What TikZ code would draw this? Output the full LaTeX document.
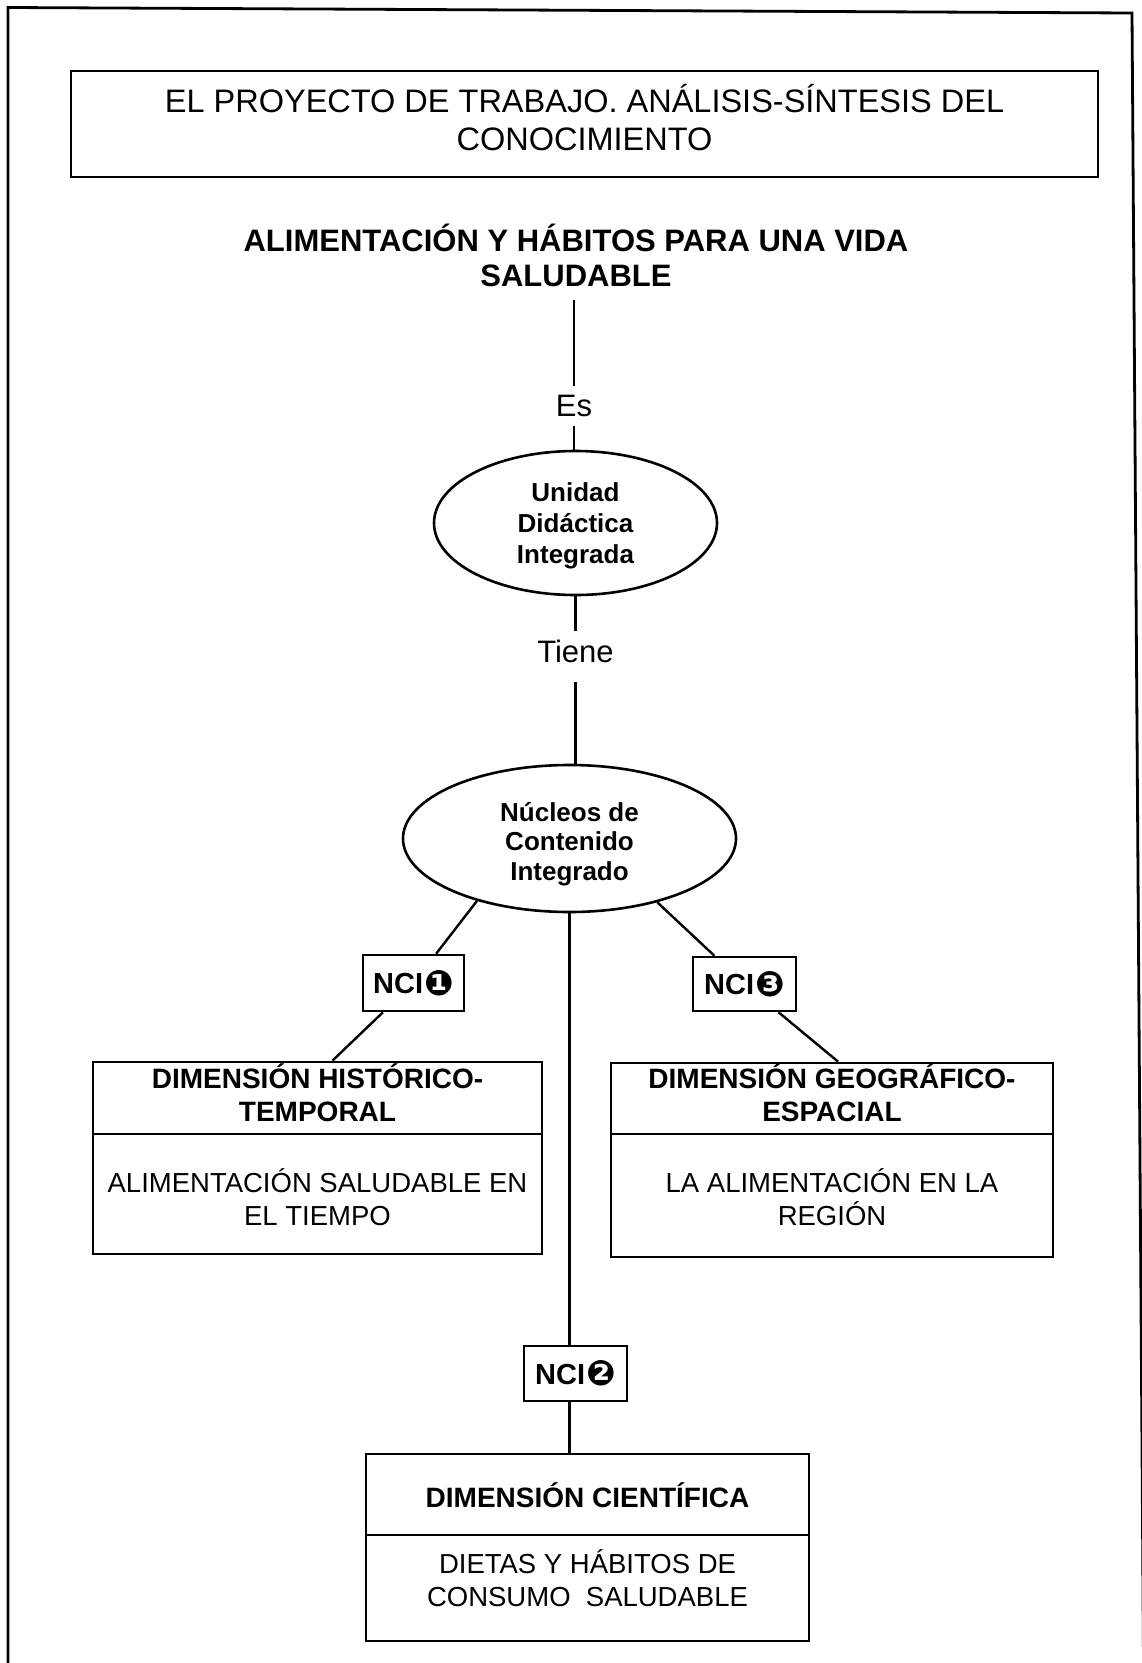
\documentclass[tikz,border=0pt]{standalone}
\usepackage{fontspec}
\setmainfont{Liberation Sans}
\newfontfamily\dingfont{DejaVu Sans}
\usetikzlibrary{shapes.geometric,calc}

% one line of text whose box is fixed by a strut: extra space above (#1) and below (#2)
\newcommand\txtline[3]{\rule[\dimexpr-0.1em-#2\relax]{0pt}{\dimexpr0.916em+#1+#2\relax}\smash{#3}}
\newcommand\ncimark[1]{\kern1pt{\dingfont\fontsize{35}{35}\selectfont\raisebox{-1.5pt}{#1}}}

\begin{document}
\begin{tikzpicture}[x=1pt,y=-1pt,
  box/.style={draw, line width=2.8pt, rectangle, inner sep=0pt, align=center},
  oval/.style={draw, line width=2.6pt, ellipse, inner sep=0pt, align=center},
  ncibox/.style={draw, fill=white, line width=2.6pt, inner sep=0pt,
    minimum width=102pt, minimum height=55pt, font=\bfseries\fontsize{29}{29}\selectfont},
  headfont/.style={font=\bfseries\fontsize{28}{33}\selectfont},
  bodyfont/.style={font=\fontsize{27.5}{33}\selectfont},
  link/.style={line width=2.4pt},
  word/.style={inner sep=0pt, font=\fontsize{31}{31}\selectfont}
]
\useasboundingbox (0,0) rectangle (1142,1663);

% page frame, open at the bottom
\draw[line width=2.8pt] (8,1663) -- (8,7.5) -- (1132,13) -- (1143.5,1663);

% title
\node[box, minimum width=1027pt, minimum height=106pt, font=\fontsize{32.5}{38.5}\selectfont]
  (title) at (584.5,124)
  {\txtline{0pt}{0pt}{EL PROYECTO DE TRABAJO. ANÁLISIS-SÍNTESIS DEL}\\
   \txtline{0pt}{8.4pt}{CONOCIMIENTO}};

% topic
\node[inner xsep=0pt, inner ysep=11pt, align=center, font=\bfseries\fontsize{31}{35}\selectfont]
  (topic) at (576,257.5)
  {\txtline{0pt}{0pt}{ALIMENTACIÓN Y HÁBITOS PARA UNA VIDA}\\
   \txtline{0pt}{0pt}{SALUDABLE}};

\node[word, anchor=base, text height=30.5pt, text depth=9.5pt] (es) at (574,416.5) {Es};

\node[oval, minimum width=283pt, minimum height=144pt, font=\bfseries\fontsize{26}{31.25}\selectfont]
  (e1) at (575.5,523)
  {\txtline{0pt}{0pt}{Unidad}\\ \txtline{0pt}{0pt}{Didáctica}\\ \txtline{0pt}{0pt}{Integrada}};

\node[word, anchor=base, text height=31pt, text depth=20pt] (tiene) at (575.5,662) {Tiene};

\node[oval, minimum width=333pt, minimum height=147pt, font=\bfseries\fontsize{26}{29.6}\selectfont]
  (e2) at (569.5,838.5)
  {\txtline{5.6pt}{0pt}{Núcleos de}\\ \txtline{0pt}{0pt}{Contenido}\\ \txtline{0pt}{0pt}{Integrado}};

% content nuclei
\node[ncibox, minimum width=101pt, minimum height=56pt] (nci1) at (413.5,983) {NCI\ncimark{❶}};
\node[ncibox, minimum width=103pt, minimum height=54pt] (nci3) at (744.5,984) {NCI\ncimark{❸}};
\node[ncibox, minimum width=103pt, minimum height=55pt] (nci2) at (575.5,1373.5) {NCI\ncimark{❷}};

% dimension: historical-temporal
\node[box, headfont, minimum width=449pt, minimum height=72pt] (histhead) at (317.5,1098)
  {\txtline{0pt}{0pt}{DIMENSIÓN HISTÓRICO-}\\ \txtline{0pt}{6pt}{TEMPORAL}};
\node[box, bodyfont, minimum width=449pt, minimum height=120pt] (histbody) at (317.5,1194)
  {\txtline{10pt}{0pt}{ALIMENTACIÓN SALUDABLE EN}\\ \txtline{0pt}{0pt}{EL TIEMPO}};

% dimension: geographic-spatial
\node[box, headfont, minimum width=442pt, minimum height=71pt] (geohead) at (832,1098.5)
  {\txtline{0pt}{0pt}{DIMENSIÓN GEOGRÁFICO-}\\ \txtline{0pt}{8pt}{ESPACIAL}};
\node[box, bodyfont, minimum width=442pt, minimum height=123pt] (geobody) at (832,1195.5)
  {\txtline{7pt}{0pt}{LA ALIMENTACIÓN EN LA}\\ \txtline{0pt}{0pt}{REGIÓN}};

% dimension: scientific
\node[box, headfont, minimum width=443pt, minimum height=81pt] (scihead) at (587.5,1494.5)
  {\txtline{5pt}{0pt}{DIMENSIÓN CIENTÍFICA}};
\node[box, bodyfont, minimum width=443pt, minimum height=106pt] (scibody) at (587.5,1588)
  {\txtline{0pt}{0pt}{DIETAS Y HÁBITOS DE}\\ \txtline{0pt}{16pt}{CONSUMO\ \ SALUDABLE}};

% connectors
\draw[link] (es.north |- topic.south) -- (es.north);
\draw[link] (es.south) -- (es.south |- e1.north);
\draw[link] (e1.south) -- (e1.south |- tiene.north);
\draw[link] (tiene.south) -- (tiene.south |- e2.north);
\draw[link] (e2.214) -- (nci1);
\draw[link] (nci1) -- ($(histhead.north)+(15,0)$);
\draw[link] (e2.-36) -- (nci3);
\draw[link] (nci3) -- ($(geohead.north)+(6,0)$);
\draw[link] (e2.south) -- (e2.south |- nci2.north);
\draw[link] (nci2.south -| e2.south) -- (e2.south |- scihead.north);
\end{tikzpicture}
\end{document}
